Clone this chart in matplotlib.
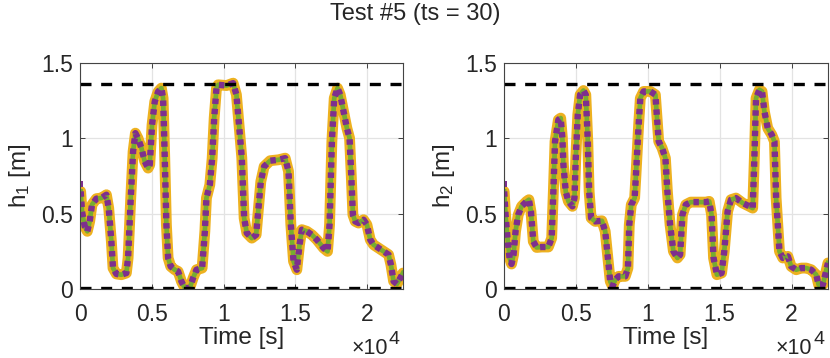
import numpy as np
import matplotlib
matplotlib.use('Agg')
import matplotlib.pyplot as plt

plt.rc('font', family='Liberation Sans', size=16)
plt.rc('mathtext', default='regular')

# tank 1 level
t1 = [46, 140, 325, 510, 675, 835, 1140, 1490, 1840, 2000, 2185, 2300, 2535, 2880,
      3230, 3350, 3535, 3700, 3860, 4045, 4280, 4510, 4745, 4860, 5020, 5210, 5440,
      5670, 5790, 5905, 6020, 6140, 6320, 6600, 6835, 7070, 7300, 7650, 7880, 8115,
      8510, 8700, 8810, 9045, 9210, 9350, 9510, 9625, 10210, 10670, 10900, 11140,
      11275, 11437, 11623, 11972, 12274, 12437, 12600, 12832, 13250, 13832, 14297,
      14530, 14692, 14878, 15110, 15296, 15460, 15808, 16157, 16506, 16970, 17250,
      17390, 17552, 17715, 17947, 18133, 18366, 18598, 18784, 18900, 19017, 19180,
      19412, 19760, 19993, 20226, 20458, 20807, 21155, 21504, 21667, 21853, 22086,
      22318, 22504]
h1 = [0.648, 0.515, 0.416, 0.383, 0.449, 0.56, 0.60, 0.604, 0.626, 0.537, 0.316, 0.139,
      0.10, 0.095, 0.106, 0.206, 0.604, 0.913, 1.035, 1.00, 0.936, 0.847, 0.803, 0.825,
      1.09, 1.245, 1.31, 1.334, 1.267, 0.87, 0.427, 0.206, 0.15, 0.128, 0.117, 0.05,
      0.007, 0.007, 0.073, 0.128, 0.139, 0.383, 0.604, 0.692, 0.869, 1.135, 1.334,
      1.356, 1.351, 1.367, 1.29, 1.024, 0.87, 0.471, 0.372, 0.338, 0.36, 0.537, 0.714,
      0.814, 0.852, 0.858, 0.869, 0.781, 0.427, 0.184, 0.128, 0.294, 0.394, 0.383,
      0.36, 0.327, 0.272, 0.25, 0.427, 0.98, 1.267, 1.334, 1.29, 1.179, 1.068, 1.002,
      0.759, 0.493, 0.449, 0.438, 0.46, 0.427, 0.327, 0.294, 0.272, 0.25, 0.228,
      0.161, 0.051, 0.033, 0.073, 0.106]

# tank 2 level
t2 = [25, 120, 258, 397, 537, 677, 816, 1002, 1234, 1583, 1746, 1886, 2049, 2281,
      2630, 3095, 3327, 3444, 3560, 3793, 3955, 4071, 4141, 4304, 4490, 4769, 4909,
      5002, 5141, 5304, 5536, 5699, 5838, 5931, 6071, 6350, 6815, 7048, 7234, 7397,
      7560, 7746, 7977, 8442, 8628, 8721, 8860, 9093, 9186, 9372, 9488, 9721, 10186,
      10535, 10651, 10767, 11000, 11233, 11370, 11556, 11789, 12068, 12254, 12417,
      12649, 12998, 13463, 14044, 14277, 14440, 14579, 14812, 15138, 15323, 15556,
      15788, 16137, 16602, 17068, 17300, 17415, 17532, 17765, 17950, 18113, 18346,
      18625, 18811, 18928, 19160, 19393, 19742, 19975, 20323, 20672, 21021, 21370,
      21718, 21880, 22182, 22531]
h2 = [0.648, 0.493, 0.338, 0.206, 0.166, 0.228, 0.383, 0.493, 0.549, 0.582, 0.593,
      0.515, 0.316, 0.276, 0.279, 0.279, 0.338, 0.648, 0.98, 1.124, 1.135, 1.002,
      0.825, 0.648, 0.582, 0.549, 0.604, 0.869, 1.157, 1.29, 1.318, 1.29, 0.98, 0.648,
      0.471, 0.449, 0.453, 0.383, 0.206, 0.051, 0.018, 0.062, 0.084, 0.084, 0.139,
      0.427, 0.56, 0.604, 0.759, 1.09, 1.267, 1.312, 1.312, 1.29, 1.135, 0.98, 0.936,
      0.869, 0.648, 0.427, 0.25, 0.206, 0.228, 0.493, 0.56, 0.577, 0.577, 0.577,
      0.582, 0.493, 0.206, 0.095, 0.106, 0.25, 0.515, 0.593, 0.604, 0.571, 0.549,
      0.537, 0.869, 1.267, 1.323, 1.312, 1.179, 1.068, 1.024, 0.98, 0.604, 0.25,
      0.206, 0.217, 0.15, 0.128, 0.139, 0.139, 0.128, 0.095, 0.029, 0.029, 0.173]

h_max = 1.36
h_min = 0.006
t_end = 22500
h0_marker = 0.70

orange = '#EDB120'
green = '#77AC30'
purple = '#7E2F8E'
txt = '#262626'


def draw(ax, t, h, label):
    ax.plot(t, h, color=orange, lw=7.8, solid_joinstyle='round', solid_capstyle='round')
    ax.plot(t, h, color=green, lw=3.4, solid_joinstyle='round')
    ax.plot(t, h, color=purple, lw=4.6, dashes=(0.85, 0.75), dash_capstyle='butt')
    ax.plot([0], [h0_marker], 's', color=purple, ms=5, mew=0)
    ax.plot([0, t_end], [h_max, h_max], color='k', lw=2.4, dashes=(3.3, 2.9))
    ax.plot([0, t_end], [h_min, h_min], color='k', lw=2.4, dashes=(3.3, 2.9))
    ax.set_xlim(0, t_end)
    ax.set_ylim(0, 1.5)
    ax.set_xticks([0, 5000, 10000, 15000, 20000])
    ax.set_xticklabels(['0', '0.5', '1', '1.5', '2'])
    ax.set_yticks([0, 0.5, 1, 1.5])
    ax.set_yticklabels(['0', '0.5', '1', '1.5'])
    ax.grid(True, color='#e3e3e3', lw=0.9)
    ax.set_axisbelow(True)
    ax.tick_params(direction='in', length=3.5, width=0.6, colors=txt,
                   top=True, right=True, labelsize=16.5)
    ax.tick_params(axis='x', pad=10)
    ax.tick_params(axis='y', pad=5)
    for s in ax.spines.values():
        s.set_color('#444444')
        s.set_linewidth(0.8)
    ax.set_xlabel('Time [s]', fontsize=17.5, color=txt)
    ax.xaxis.set_label_coords(0.5, -0.166)
    ax.set_ylabel(label, fontsize=17.5, color=txt, labelpad=6)
    # MATLAB-style exponent label
    ax.text(0.9536, -0.286, '\u00d710', transform=ax.transAxes,
            ha='right', va='baseline', fontsize=15.5, color=txt)
    ax.text(0.957, -0.244, '4', transform=ax.transAxes,
            ha='left', va='baseline', fontsize=14, color=txt)


fig = plt.figure(figsize=(8.3, 3.58), dpi=100)
ax1 = fig.add_axes([0.0964, 0.1927, 0.389, 0.631])
ax2 = fig.add_axes([0.607, 0.1927, 0.390, 0.631])
draw(ax1, t1, h1, 'h$_1$ [m]')
draw(ax2, t2, h2, 'h$_2$ [m]')
fig.suptitle('Test #5 (ts = 30)', y=0.962, va='center', fontsize=17, color=txt)

fig.savefig('out.png', dpi=100)
